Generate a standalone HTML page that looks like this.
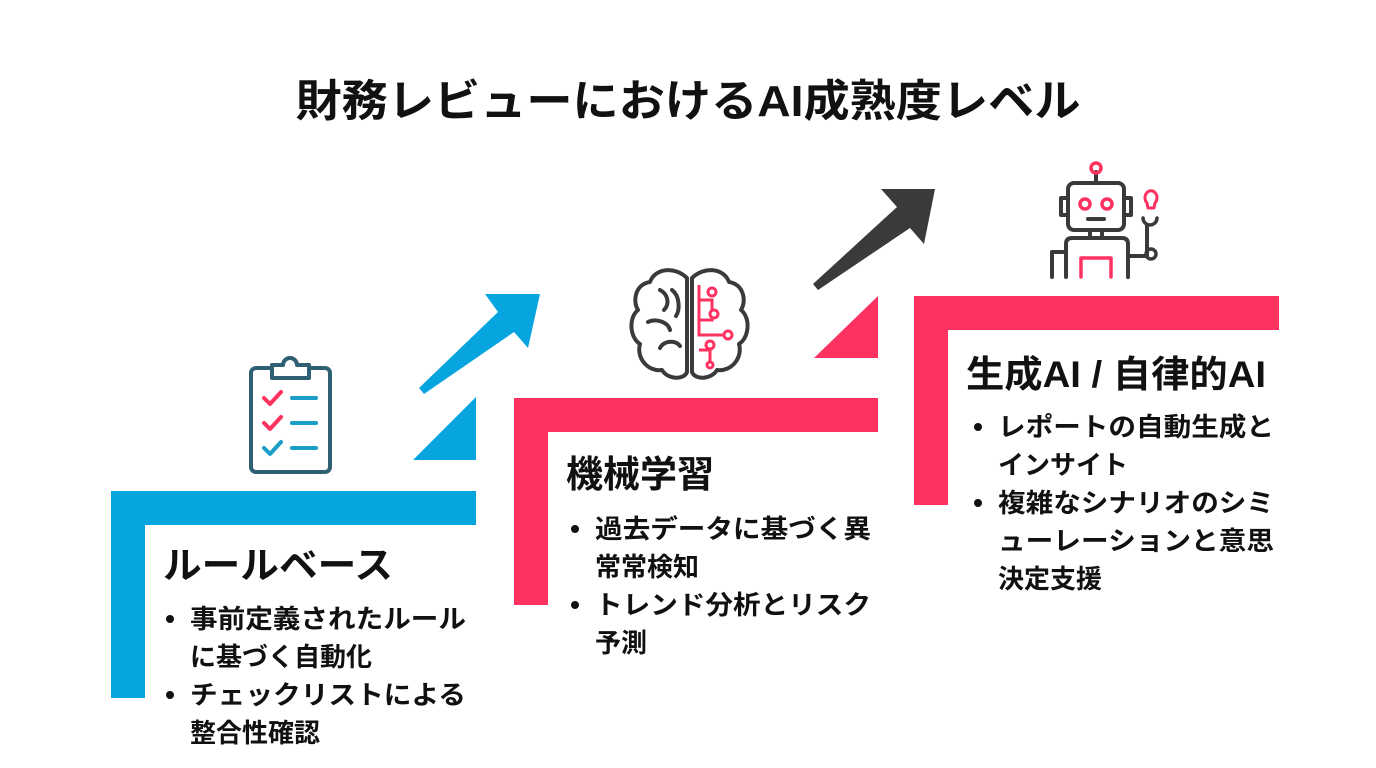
<!DOCTYPE html>
<html><head><meta charset="utf-8"><style>
html,body{margin:0;padding:0;background:#fff;}
svg{display:block}
text{font-family:"Liberation Sans","Noto Sans CJK JP",sans-serif;font-weight:bold;fill:#111;}
</style></head><body>
<svg width="1376" height="768" viewBox="0 0 1376 768" xmlns="http://www.w3.org/2000/svg">
<rect width="1376" height="768" fill="#fff"/>
<text x="688" y="116" font-size="44" text-anchor="middle" textLength="785" lengthAdjust="spacingAndGlyphs">財務レビューにおけるAI成熟度レベル</text>

<path d="M111 491 H476 V525 H145 V698 H111 Z" fill="#07a5df"/>
<polygon points="413,460 476,460 476,397" fill="#07a5df"/>
<polygon points="419,388 498,312 485,294 540,294 528,348 514,332 424,394" fill="#07a5df"/>

<path d="M514 398 H878 V432 H548 V605 H514 Z" fill="#fe3260"/>
<polygon points="814,358 878,358 878,296" fill="#fe3260"/>
<polygon points="813,284 897,207 881,189 935,189 924,244 910,228 818,290" fill="#3a3a3a"/>

<path d="M914 296 H1279 V330 H948 V505 H914 Z" fill="#fe3260"/>

<g fill="none" stroke-linecap="round" stroke-linejoin="round">
<rect x="251" y="368" width="79" height="104" rx="5" stroke="#2e5f73" stroke-width="4"/>
<path d="M272 378 V365 H283 A7 7 0 0 1 297 365 H309 V378 Z" fill="#fff" stroke="#2e5f73" stroke-width="4"/>
<path d="M264 398 l6 6 l11 -12" stroke="#fe3260" stroke-width="4"/>
<path d="M264 423 l6 6 l11 -12" stroke="#fe3260" stroke-width="4"/>
<path d="M264 448 l6 6 l11 -12" stroke="#1a9ec7" stroke-width="4"/>
<path d="M292 398 H316 M292 423 H316 M292 448 H316" stroke="#1a9ec7" stroke-width="4"/>
</g>

<g fill="none" stroke="#3a3a3a" stroke-width="4" stroke-linecap="round" stroke-linejoin="round">
<path d="M687 278 C675 266 655 268 650 282 C636 284 632 300 638 310 C628 318 630 338 640 344 C636 358 648 372 662 370 C668 380 684 380 687 372 Z"/>
<path d="M692 278 C704 266 724 268 729 282 C743 284 747 300 741 310 C751 318 749 338 739 344 C743 358 731 372 717 370 C711 380 695 380 692 372 Z"/>
<path d="M660 290 C668 294 670 304 664 310 M648 322 C656 318 668 322 670 330 M660 348 C664 340 676 340 680 346 M672 290 C680 296 680 310 676 316"/>
</g>
<g fill="none" stroke="#fe3260" stroke-width="3">
<path d="M699 285 V300 H712 V312 M699 300 V335 H724 M699 320 H712 V310 M699 350 H710 V365"/>
<circle cx="712" cy="292" r="4"/><circle cx="714" cy="314" r="4" fill="#fff"/><circle cx="728" cy="335" r="4" fill="#fff"/><circle cx="710" cy="345" r="4" fill="#fff"/><circle cx="710" cy="365" r="3" fill="#fff"/>
</g>

<g fill="none" stroke-linecap="round" stroke-linejoin="round">
<path d="M1096 172 V183" stroke="#3a3a3a" stroke-width="4"/>
<circle cx="1096" cy="168" r="5" stroke="#fe3260" stroke-width="3.5"/>
<rect x="1068" y="183" width="56" height="47" rx="6" stroke="#3a3a3a" stroke-width="4"/>
<path d="M1068 198 H1061 V215 H1068 M1124 198 H1131 V215 H1124" stroke="#3a3a3a" stroke-width="4"/>
<circle cx="1085" cy="204" r="5" stroke="#fe3260" stroke-width="3.5"/>
<circle cx="1107" cy="204" r="5" stroke="#fe3260" stroke-width="3.5"/>
<path d="M1088 219 H1104" stroke="#3a3a3a" stroke-width="4"/>
<path d="M1090 230 V238 M1102 230 V238" stroke="#3a3a3a" stroke-width="4"/>
<path d="M1066 277 V244 Q1066 238 1072 238 H1122 Q1128 238 1128 244 V277" stroke="#3a3a3a" stroke-width="4"/>
<path d="M1066 252 H1052 V277" stroke="#3a3a3a" stroke-width="4"/>
<path d="M1128 256 H1147 V225" stroke="#3a3a3a" stroke-width="4"/>
<circle cx="1151" cy="254" r="5" stroke="#3a3a3a" stroke-width="3.5"/>
<path d="M1143 218 A7 7 0 1 0 1157 218" stroke="#3a3a3a" stroke-width="3.5"/>
<path d="M1081 277 V258 H1111 V277" stroke="#fe3260" stroke-width="3.5"/>
<path d="M1147 203 A6 7 0 1 1 1155 203 L1154 208 H1148 Z" stroke="#fe3260" stroke-width="3"/>
</g>

<g fill="#111">
<circle cx="170" cy="619" r="4"/><circle cx="170" cy="695" r="4"/>
<circle cx="575" cy="529" r="4"/><circle cx="575" cy="605" r="4"/>
<circle cx="978" cy="427" r="4"/><circle cx="978" cy="503" r="4"/>
</g>

<text x="163" y="578" font-size="37" textLength="230" lengthAdjust="spacingAndGlyphs">ルールベース</text>
<g font-size="26">
<text x="190" y="628" textLength="276" lengthAdjust="spacingAndGlyphs">事前定義されたルール</text>
<text x="190" y="666">に基づく自動化</text>
<text x="190" y="704" textLength="276" lengthAdjust="spacingAndGlyphs">チェックリストによる</text>
<text x="190" y="742">整合性確認</text>
</g>

<text x="566" y="487" font-size="37">機械学習</text>
<g font-size="26">
<text x="595" y="538" textLength="276" lengthAdjust="spacingAndGlyphs">過去データに基づく異</text>
<text x="595" y="576">常常検知</text>
<text x="595" y="614" textLength="276" lengthAdjust="spacingAndGlyphs">トレンド分析とリスク</text>
<text x="595" y="652">予測</text>
</g>

<text x="966" y="387" font-size="37" textLength="300" lengthAdjust="spacingAndGlyphs">生成AI / 自律的AI</text>
<g font-size="26">
<text x="998" y="436" textLength="276" lengthAdjust="spacingAndGlyphs">レポートの自動生成と</text>
<text x="998" y="474">インサイト</text>
<text x="998" y="512" textLength="276" lengthAdjust="spacingAndGlyphs">複雑なシナリオのシミ</text>
<text x="998" y="550" textLength="276" lengthAdjust="spacingAndGlyphs">ューレーションと意思</text>
<text x="998" y="588">決定支援</text>
</g>
</svg>
</body></html>
